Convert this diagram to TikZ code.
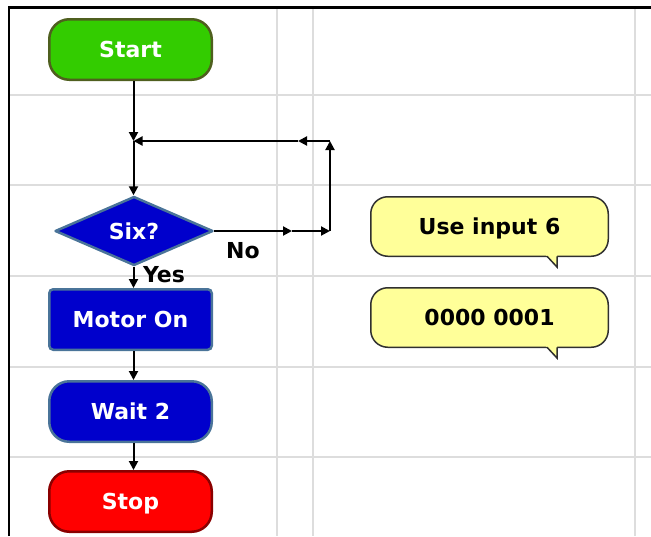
\documentclass[tikz,border=0pt]{standalone}
\usepackage{fontspec}
\setmainfont{DejaVu Sans}
\usetikzlibrary{arrows.meta,shapes.geometric,calc}
\definecolor{gridc}{HTML}{DDDDDD}
\definecolor{startfill}{HTML}{33CC00}
\definecolor{startedge}{HTML}{4F5F1F}
\definecolor{bluefill}{HTML}{0000CC}
\definecolor{blueedge}{HTML}{4A7499}
\definecolor{stopfill}{HTML}{FF0000}
\definecolor{stopedge}{HTML}{8A0000}
\definecolor{notefill}{HTML}{FFFF99}
\definecolor{noteedge}{HTML}{303030}
\begin{document}
\begin{tikzpicture}[x=1pt,y=-1pt,
  lbl/.style={font=\fontsize{22}{26}\selectfont\bfseries, text depth=0pt},
  block/.style={lbl, text=white, line width=2.5pt, minimum width=162.5pt, minimum height=60.5pt, inner sep=0pt},
  term/.style={block, rounded corners=20pt},
  procbox/.style={block, rounded corners=4pt, fill=bluefill, draw=blueedge},
  decision/.style={lbl, text=white, shape=diamond, aspect=2.26, fill=bluefill, draw=blueedge, line width=2.5pt, line join=round, minimum width=158pt, minimum height=69pt, inner sep=0pt},
  note/.style={lbl, text=black, fill=notefill, draw=noteedge, line width=1.5pt, rounded corners=17pt, minimum width=237.5pt, minimum height=59.5pt, inner sep=0pt},
  conn/.style={line width=2pt, -{Triangle[length=9pt,width=9pt]}},
  gridline/.style={gridc, line width=2pt},
]
\useasboundingbox (0,0) rectangle (651,536);
% grid
\foreach \x in {277,313,635} \draw[gridline] (\x,9) -- (\x,536);
\foreach \y in {95,185,276,367,457} \draw[gridline] (9,\y) -- (651,\y);
% frame
\draw[line width=2.5pt] (9,536) -- (9,7.5) -- (651,7.5);

% nodes
\node[term, fill=startfill, draw=startedge] (start) at (130.5,49.5) {Start};
\node[decision] (six) at (134,231) {Six?};
\node[procbox] (motor) at (130.5,319.5) {Motor On};
\node[term, fill=bluefill, draw=blueedge] (wait) at (130.5,411.5) {Wait 2};
\node[term, fill=stopfill, draw=stopedge] (stop) at (130.5,501.5) {Stop};
\node[lbl] (no) at (243,250) {No};
\node[lbl] (yes) at (164,274) {Yes};

\coordinate (j) at (133.5,141);
\coordinate (c1) at (330,141);
\coordinate (c2) at (330,231);
\coordinate (n1) at (292,231);
\coordinate (n2) at (298,141);

% connectors
\draw[conn] (start.south -| j) -- (j);
\draw[conn] (j) -- (six.north -| j);
\draw[conn] (six.east) -- (n1);
\draw[conn] (n1) -- (c2);
\draw[conn] (c2) -- (c1);
\draw[conn] (c1) -- (n2);
\draw[conn] (n2) -- (j);
\draw[conn] (six.south -| j) -- (motor.north -| j);
\draw[conn] (motor.south -| j) -- (wait.north -| j);
\draw[conn] (wait.south -| j) -- (stop.north -| j);

% comments
\node[note] (c6) at (489.5,226.5) {Use input 6};
\node[note] (c01) at (489.5,317.5) {0000 0001};
\foreach \c in {c6,c01}{
  \begin{scope}[shift={(\c.south east)}]
    \fill[notefill] (-63.5,-2.4) -- (-52,10) -- (-52,-2.4) -- cycle;
    \draw[noteedge, line width=1.5pt] (-62,-0.75) -- (-52,10) -- (-52,-0.75);
  \end{scope}
}
\end{tikzpicture}
\end{document}
